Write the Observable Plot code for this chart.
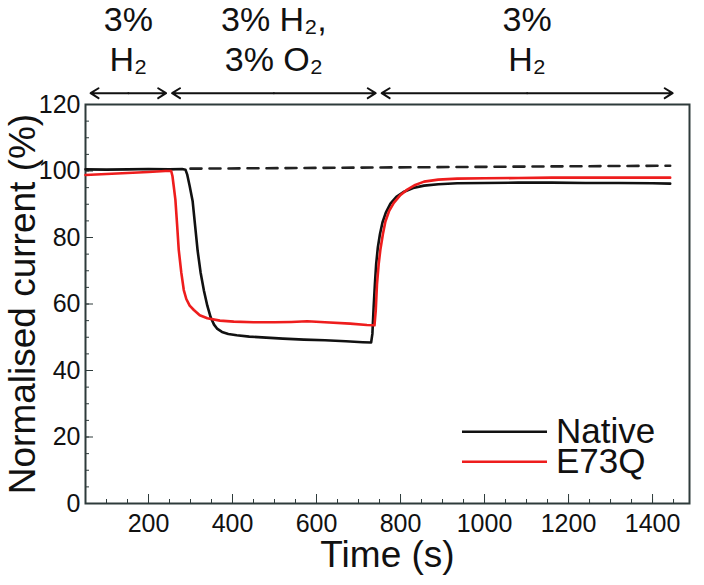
<!DOCTYPE html>
<html><head><meta charset="utf-8">
<script src="https://cdn.jsdelivr.net/npm/d3@7"></script>
<script src="https://cdn.jsdelivr.net/npm/@observablehq/plot@0.6"></script>
<style>
html,body{margin:0;padding:0;background:#fff;}
#chart{width:704px;height:585px;}
#chart svg g[aria-label="x-axis tick label"], #chart svg g[aria-label="y-axis tick label"] {font-size:25px;}
</style></head><body><div id="chart"></div>
<script>
// ---- data ----
const seriesNames = ["Native", "E73Q"];
const seriesColors = ["#111111", "#ee1d1d"];

const nativeTime = [50, 100, 150, 200, 250, 280, 288, 292, 298, 305, 311, 317, 324, 332, 340, 348, 356, 364, 375, 390, 410, 440, 480, 520, 570, 620, 670, 710, 730, 733, 736, 739, 742, 746, 751, 757, 765, 776, 790, 807, 830, 856, 890, 935, 1000, 1080, 1160, 1240, 1320, 1400, 1442];
const nativeValue = [100.5, 100.4, 100.5, 100.6, 100.5, 100.6, 100.4, 99, 95.5, 91, 83.5, 76, 69.5, 64, 59.5, 56, 53.8, 52.5, 51.6, 51, 50.6, 50.2, 49.9, 49.6, 49.3, 49.1, 48.8, 48.5, 48.4, 51, 59, 66, 72, 77, 81, 84.5, 87.5, 90.2, 92.2, 93.7, 94.9, 95.6, 96.0, 96.3, 96.4, 96.5, 96.5, 96.4, 96.4, 96.3, 96.2];

const e73qTime = [50, 100, 150, 200, 240, 254, 257, 260, 264, 268, 272, 278, 284, 290, 298, 308, 322, 340, 370, 403, 450, 500, 540, 578, 620, 680, 720, 738, 741, 744, 748, 752, 758, 764, 773, 784, 800, 816, 835, 856, 890, 935, 1000, 1080, 1160, 1240, 1320, 1400, 1442];
const e73qValue = [98.8, 99.1, 99.4, 99.7, 100, 100, 98.5, 95.5, 91.4, 84, 76.3, 69.5, 64.2, 61.5, 59.5, 58.2, 56.6, 55.7, 55, 54.7, 54.5, 54.5, 54.6, 54.8, 54.5, 54.1, 53.7, 53.6, 58, 66, 72, 76.3, 81, 84.8, 88, 90.4, 92.8, 94.4, 95.8, 96.8, 97.4, 97.7, 97.8, 97.9, 98, 98, 98, 98, 98];

const refTime = [300, 1442];
const refValue = [100.7, 101.6];

const phaseBounds = [55, 249, 748, 1455];
const phaseLabels = ["3%\nH\u2082", "3% H\u2082,\n3% O\u2082", "3%\nH\u2082"];
const arrowLevel = 123.4;
const phaseLabelLevel = 130;

const xTicks = [200, 400, 600, 800, 1000, 1200, 1400];
const yTicks = [0, 20, 40, 60, 80, 100, 120];
const xMinorTicks = d3.range(50, 1488, 50);
const yMinorTicks = d3.range(0, 121, 5);
const xLabel = "Time (s)";
const yLabel = "Normalised current (%)";

// ---- build tables ----
const rows = [];
[[nativeTime, nativeValue], [e73qTime, e73qValue]].forEach(([T, V], i) => {
  T.forEach((t, j) => rows.push({series: seriesNames[i], t, v: V[j]}));
});
const refRows = refTime.map((t, i) => ({t, v: refValue[i]}));
const phases = phaseLabels.map((label, i) => ({a: phaseBounds[i], b: phaseBounds[i + 1], label}));
const arrows = phases.flatMap(p => {
  const m = (p.a + p.b) / 2;
  return [{from: m, to: p.a}, {from: m, to: p.b}];
});

const axisColor = "#2e3b3b";
const font = "'Liberation Sans', Arial, Helvetica, sans-serif";

const chart = Plot.plot({
  width: 704, height: 585,
  marginLeft: 85, marginRight: 15, marginTop: 104, marginBottom: 82,
  x: {domain: [50, 1488], label: null},
  y: {domain: [0, 120], label: null},
  color: {domain: seriesNames, range: seriesColors},
  style: {fontFamily: font, fontSize: "25px", color: "#111", background: "#fff", overflow: "visible"},
  marks: [
    Plot.axisX(xMinorTicks, {tickSize: -4, tickFormat: () => "", stroke: axisColor, label: null}),
    Plot.axisX(xTicks, {tickSize: -9, tickPadding: 20, tickFormat: d => String(d), stroke: axisColor, fill: "#111", label: null}),
    Plot.axisY(yMinorTicks, {tickSize: -4, tickFormat: () => "", stroke: axisColor, label: null}),
    Plot.axisY(yTicks, {tickSize: -8, tickPadding: 13, tickFormat: d => String(d), stroke: axisColor, fill: "#111", label: null}),
    Plot.frame({stroke: axisColor, strokeWidth: 2}),
    Plot.line(refRows, {x: "t", y: "v", stroke: "#222", strokeWidth: 2.6, strokeDasharray: "11,8"}),
    Plot.line(rows, {x: "t", y: "v", z: "series", stroke: "series", strokeWidth: 2.6}),
    Plot.arrow(arrows, {x1: "from", x2: "to", y1: arrowLevel, y2: arrowLevel, bend: 0, headLength: 7, headAngle: 64, strokeWidth: 2, stroke: "#111", insetEnd: 3}),
    Plot.text(phases, {x: d => (d.a + d.b) / 2, y: phaseLabelLevel, text: "label", fontSize: 34, lineAnchor: "bottom", lineHeight: 1.18, fill: "#111"}),
    Plot.text([xLabel], {frameAnchor: "bottom", text: d => d, fontSize: 37, lineAnchor: "bottom", dy: 63, fill: "#111"}),
    Plot.text([yLabel], {frameAnchor: "left", text: d => d, fontSize: 37, rotate: -90, textAnchor: "middle", lineAnchor: "bottom", dx: -51, fill: "#111"})
  ]
});
document.getElementById("chart").appendChild(chart);

// legend
const svg = d3.select(chart);
const lg = svg.append("g").attr("font-family", font).attr("text-anchor", "start");
seriesNames.forEach((name, i) => {
  const y = 431.7 + i * 30;
  lg.append("line").attr("x1", 462).attr("x2", 547).attr("y1", y).attr("y2", y)
    .attr("stroke", seriesColors[i]).attr("stroke-width", 2.6);
  lg.append("text").attr("x", 556).attr("y", y).attr("dy", "0.33em")
    .attr("font-size", 35).attr("fill", "#111").text(name);
});
</script></body></html>
